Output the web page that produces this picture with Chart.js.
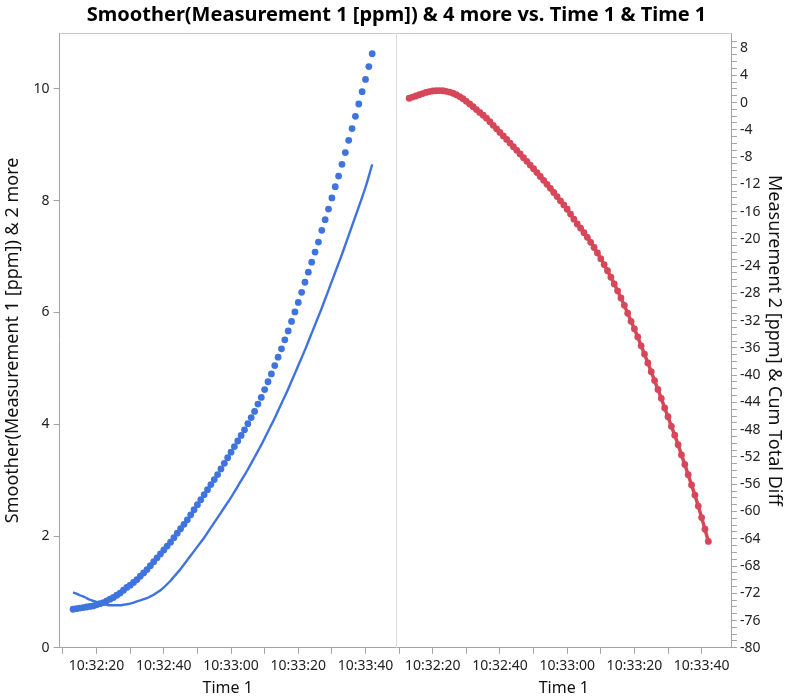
<!DOCTYPE html>
<html>
<head>
<meta charset="utf-8">
<title>Smoother vs. Time</title>
<script src="https://cdn.jsdelivr.net/npm/chart.js@4/dist/chart.umd.min.js"></script>
<style>
  html, body { margin: 0; padding: 0; background: #fff; }
</style>
</head>
<body>
<canvas id="myChart" width="794" height="698"></canvas>
<script>
// sample times (one reading per second)
var times = [
    '10:32:13', '10:32:14', '10:32:15', '10:32:16', '10:32:17', '10:32:18', '10:32:19', '10:32:20',
    '10:32:21', '10:32:22', '10:32:23', '10:32:24', '10:32:25', '10:32:26', '10:32:27', '10:32:28',
    '10:32:29', '10:32:30', '10:32:31', '10:32:32', '10:32:33', '10:32:34', '10:32:35', '10:32:36',
    '10:32:37', '10:32:38', '10:32:39', '10:32:40', '10:32:41', '10:32:42', '10:32:43', '10:32:44',
    '10:32:45', '10:32:46', '10:32:47', '10:32:48', '10:32:49', '10:32:50', '10:32:51', '10:32:52',
    '10:32:53', '10:32:54', '10:32:55', '10:32:56', '10:32:57', '10:32:58', '10:32:59', '10:33:00',
    '10:33:01', '10:33:02', '10:33:03', '10:33:04', '10:33:05', '10:33:06', '10:33:07', '10:33:08',
    '10:33:09', '10:33:10', '10:33:11', '10:33:12', '10:33:13', '10:33:14', '10:33:15', '10:33:16',
    '10:33:17', '10:33:18', '10:33:19', '10:33:20', '10:33:21', '10:33:22', '10:33:23', '10:33:24',
    '10:33:25', '10:33:26', '10:33:27', '10:33:28', '10:33:29', '10:33:30', '10:33:31', '10:33:32',
    '10:33:33', '10:33:34', '10:33:35', '10:33:36', '10:33:37', '10:33:38', '10:33:39', '10:33:40',
    '10:33:41', '10:33:42'
];

// Measurement 1 [ppm]
var measurement1 = [
    0.69, 0.70, 0.71, 0.72, 0.73, 0.74, 0.75, 0.77, 0.79, 0.81, 0.84, 0.87, 0.90, 0.94, 0.98, 1.03,
    1.08, 1.12, 1.17, 1.22, 1.28, 1.34, 1.40, 1.47, 1.54, 1.61, 1.68, 1.75, 1.82, 1.89, 1.97, 2.05,
    2.13, 2.21, 2.29, 2.38, 2.47, 2.56, 2.65, 2.74, 2.83, 2.92, 3.01, 3.10, 3.20, 3.30, 3.40, 3.50,
    3.60, 3.70, 3.80, 3.90, 4.01, 4.12, 4.23, 4.36, 4.48, 4.62, 4.76, 4.90, 5.05, 5.20, 5.35, 5.51,
    5.67, 5.84, 6.01, 6.18, 6.36, 6.54, 6.72, 6.90, 7.08, 7.26, 7.47, 7.66, 7.85, 8.05, 8.25, 8.44,
    8.65, 8.86, 9.08, 9.29, 9.51, 9.73, 9.95, 10.17, 10.40, 10.63
];

// Smoother(Measurement 1 [ppm])
var smoother = [
    0.99, 0.97, 0.94, 0.92, 0.89, 0.86, 0.84, 0.82, 0.80, 0.78, 0.77, 0.76, 0.76, 0.76, 0.76, 0.77,
    0.78, 0.79, 0.81, 0.83, 0.85, 0.87, 0.89, 0.92, 0.95, 0.99, 1.03, 1.08, 1.14, 1.20, 1.27, 1.34,
    1.41, 1.49, 1.57, 1.65, 1.73, 1.81, 1.89, 1.97, 2.06, 2.15, 2.24, 2.33, 2.42, 2.51, 2.60, 2.69,
    2.79, 2.89, 2.99, 3.09, 3.19, 3.30, 3.41, 3.52, 3.63, 3.75, 3.87, 3.99, 4.11, 4.24, 4.37, 4.50,
    4.63, 4.77, 4.91, 5.05, 5.19, 5.33, 5.48, 5.63, 5.78, 5.93, 6.08, 6.24, 6.40, 6.56, 6.72, 6.88,
    7.04, 7.21, 7.38, 7.55, 7.72, 7.89, 8.06, 8.24, 8.44, 8.65
];

// Cum Total Diff
var cumTotalDiff = [
    0.63, 0.80, 0.96, 1.14, 1.32, 1.48, 1.60, 1.69, 1.73, 1.75, 1.73, 1.65, 1.53, 1.36, 1.14, 0.87,
    0.55, 0.18, -0.22, -0.62, -1.03, -1.45, -1.87, -2.30, -2.82, -3.34, -3.86, -4.38, -4.90, -5.42, -5.95, -6.48,
    -7.01, -7.55, -8.09, -8.63, -9.17, -9.72, -10.28, -10.85, -11.42, -12.00, -12.59, -13.19, -13.80, -14.42, -15.02, -15.66,
    -16.36, -17.12, -17.82, -18.44, -19.09, -19.78, -20.51, -21.27, -22.07, -22.91, -23.78, -24.68, -25.63, -26.61, -27.62, -28.67,
    -29.76, -30.9, -32.1, -33.2, -34.4, -35.7, -36.9, -38.2, -39.5, -40.8, -42.1, -43.4, -44.8, -46.1, -47.5, -48.8,
    -50.2, -51.7, -53.1, -54.6, -56.1, -57.6, -59.2, -60.9, -62.6, -64.4
];

// axis ticks
var leftTicks = [0, 2, 4, 6, 8, 10];
var timeTicks = [10, 20, 30, 40, 50, 60, 70, 80, 90, 100];   // seconds after 10:32:00
var timeLabelStep = 20;     // labels every 20 s
var rightLabelStep = 4;     // labelled ticks on the right axis

var blue = '#3f74df';
var red = '#d6475a';
var axisGray = '#a3a3a3';
var fontFamily = "'Noto Sans', 'Open Sans', sans-serif";

// times are plotted as seconds after 10:32:00
var baseSec = 10 * 3600 + 32 * 60;
function toSec(s) {
    var p = s.split(':').map(Number);
    return p[0] * 3600 + p[1] * 60 + p[2] - baseSec;
}
function timeLabel(v) {
    var t = baseSec + v;
    var h = Math.floor(t / 3600), m = Math.floor((t % 3600) / 60), s = t % 60;
    return h + ':' + String(m).padStart(2, '0') + ':' + String(s).padStart(2, '0');
}
function points(values) {
    return times.map(function (t, i) { return {x: toSec(t), y: values[i]}; });
}

function timeAxis() {
    return {
        type: 'linear',
        position: 'bottom',
        stack: 'time',
        stackWeight: 1,
        min: 9,
        max: 109,
        border: {color: axisGray},
        grid: {drawOnChartArea: false, color: axisGray, tickLength: 6},
        afterBuildTicks: function (scale) {
            scale.ticks = timeTicks.map(function (v) { return {value: v}; });
        },
        ticks: {
            autoSkip: false,
            maxRotation: 0,
            color: '#222',
            padding: 5,
            font: {family: fontFamily, size: 14, lineHeight: 1.1},
            callback: function (v) { return v % timeLabelStep === 0 ? timeLabel(v) : ''; }
        },
        title: {display: true, text: 'Time 1', color: '#111', padding: {top: 1, bottom: 0},
                font: {family: fontFamily, size: 16, lineHeight: 1.05}}
    };
}

// light frame along the top and between the two panels
var framePlugin = {
    id: 'frame',
    afterDraw: function (chart) {
        var ctx = chart.ctx, a = chart.chartArea, mid = chart.scales.x.right;
        ctx.save();
        ctx.lineWidth = 1;
        ctx.strokeStyle = '#c9c9c9';
        ctx.beginPath();
        ctx.moveTo(a.left, a.top + 0.5);
        ctx.lineTo(a.right, a.top + 0.5);
        ctx.stroke();
        ctx.strokeStyle = '#dcdcdc';
        ctx.beginPath();
        ctx.moveTo(Math.round(mid) + 0.5, a.top);
        ctx.lineTo(Math.round(mid) + 0.5, a.bottom);
        ctx.stroke();
        ctx.restore();
    }
};

document.addEventListener("DOMContentLoaded", function () {
    var ctx = document.getElementById('myChart').getContext('2d');
    var chart = new Chart(ctx, {
        type: 'line',
        data: {
            datasets: [{
                label: 'Measurement 1 [ppm]',
                data: points(measurement1),
                xAxisID: 'x',
                yAxisID: 'y',
                showLine: false,
                pointRadius: 3.4,
                pointBorderWidth: 0,
                pointBackgroundColor: blue,
                borderColor: blue
            }, {
                label: 'Smoother(Measurement 1 [ppm])',
                data: points(smoother),
                xAxisID: 'x',
                yAxisID: 'y',
                pointRadius: 0,
                borderColor: blue,
                borderWidth: 2.4,
                cubicInterpolationMode: 'monotone',
                fill: false
            }, {
                label: 'Cum Total Diff',
                data: points(cumTotalDiff),
                xAxisID: 'x2',
                yAxisID: 'y2',
                borderColor: red,
                backgroundColor: red,
                borderWidth: 3.5,
                pointRadius: 3.4,
                pointBorderWidth: 0,
                pointBackgroundColor: red,
                fill: false
            }]
        },
        options: {
            responsive: false,
            animation: false,
            layout: {padding: {left: 2, right: 3, top: 0, bottom: 1}},
            plugins: {
                legend: {display: false},
                tooltip: {enabled: false},
                title: {
                    display: true,
                    text: 'Smoother(Measurement 1 [ppm]) & 4 more vs. Time 1 & Time 1',
                    color: '#000',
                    font: {family: fontFamily, size: 20, weight: 'bold'},
                    padding: {top: 3, bottom: 6}
                }
            },
            scales: {
                x: timeAxis(),
                x2: timeAxis(),
                y: {
                    position: 'left',
                    min: 0,
                    max: 11,
                    border: {color: axisGray},
                    grid: {drawOnChartArea: false, color: axisGray, tickLength: 6},
                    afterBuildTicks: function (scale) {
                        scale.ticks = leftTicks.map(function (v) { return {value: v}; });
                    },
                    ticks: {color: '#222', padding: 4, font: {family: fontFamily, size: 14}},
                    title: {display: true, text: 'Smoother(Measurement 1 [ppm]) & 2 more', color: '#111',
                            padding: {top: 0, bottom: 6}, font: {family: fontFamily, size: 18}}
                },
                y2: {
                    position: 'right',
                    min: -80,
                    max: 10.2,
                    border: {color: axisGray},
                    grid: {drawOnChartArea: false, color: axisGray, tickLength: 5},
                    afterBuildTicks: function (scale) {
                        scale.ticks = scale.ticks.filter(function (t) { return Number.isInteger(t.value); });
                    },
                    ticks: {
                        stepSize: 1,
                        autoSkip: false,
                        color: '#222',
                        padding: 3,
                        font: {family: fontFamily, size: 14},
                        callback: function (v) { return v % rightLabelStep === 0 ? String(v) : ''; }
                    },
                    title: {display: true, text: 'Measurement 2 [ppm] & Cum Total Diff', color: '#111',
                            padding: {top: 6, bottom: 0}, font: {family: fontFamily, size: 18}}
                }
            }
        },
        plugins: [framePlugin]
    });
});
</script>
</body>
</html>
